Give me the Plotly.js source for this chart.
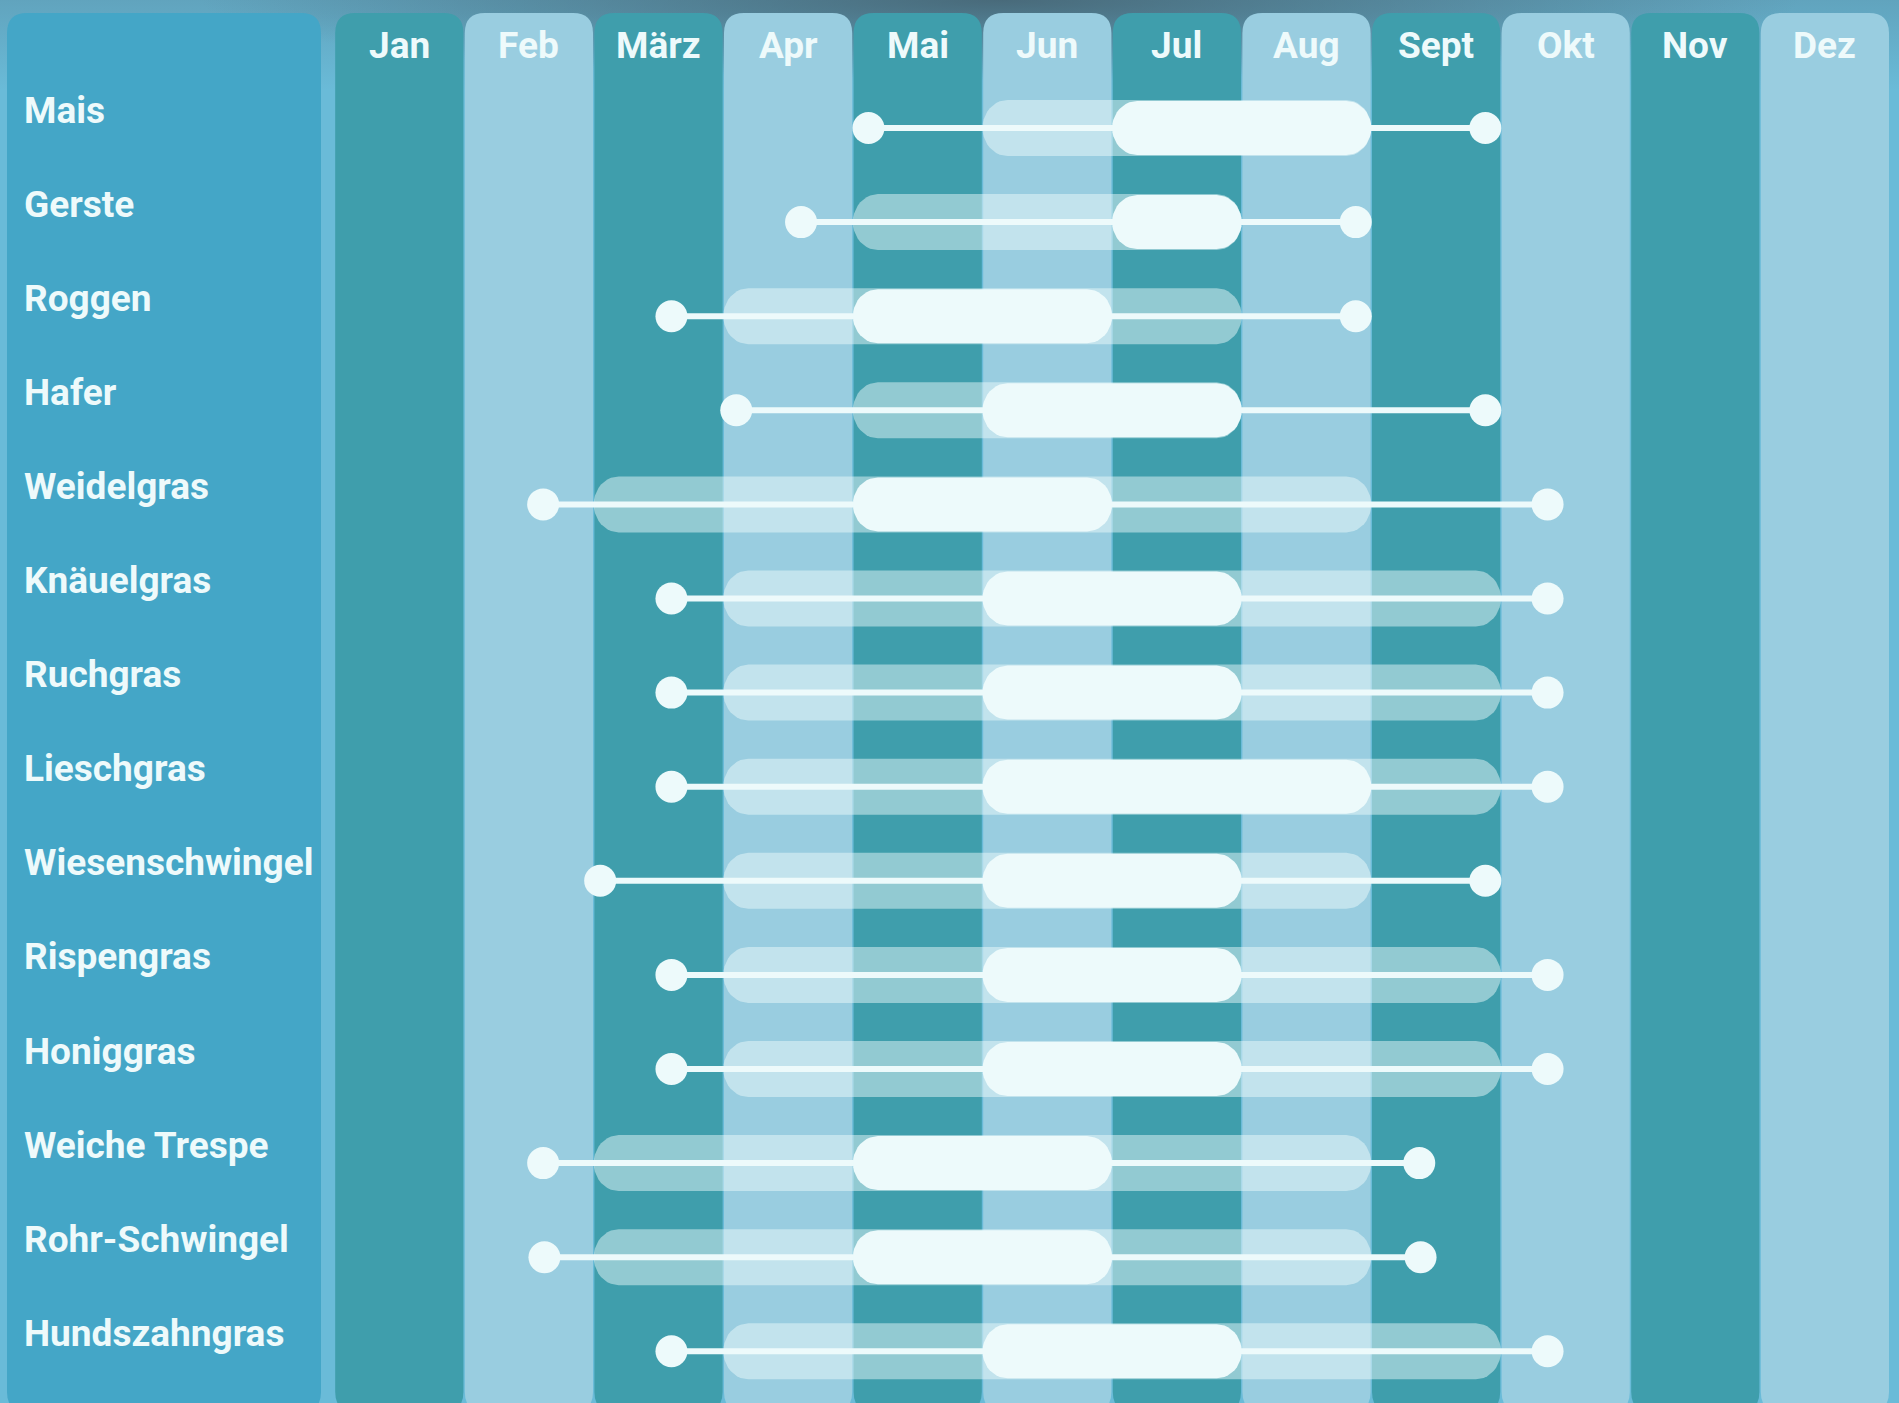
<!DOCTYPE html>
<html><head><meta charset="utf-8">
<script src="https://cdn.plot.ly/plotly-3.0.1.min.js"></script>
<style>
html,body{margin:0;padding:0;width:1899px;height:1403px;overflow:hidden;
background:
 radial-gradient(ellipse 800px 80px at 1000px 0px, rgba(70,100,115,0.9), rgba(70,100,115,0) 100%),
 linear-gradient(to bottom, rgba(80,120,140,0.35) 0px, rgba(80,120,140,0) 90px),
 #6ABBD8;}
#chart{width:1899px;height:1403px;}
</style></head><body><div id="chart"></div>
<script>
// ---- data (months: 0 = start of January) ----
const crops = ['Mais','Gerste','Roggen','Hafer','Weidelgras','Knäuelgras','Ruchgras','Lieschgras',
  'Wiesenschwingel','Rispengras','Honiggras','Weiche Trespe','Rohr-Schwingel','Hundszahngras'];
const months = ['Jan','Feb','März','Apr','Mai','Jun','Jul','Aug','Sept','Okt','Nov','Dez'];
const seasonStart = [4.12, 3.60, 2.60, 3.10, 1.61, 2.60, 2.60, 2.60, 2.05, 2.60, 2.60, 1.61, 1.62, 2.60];
const seasonEnd   = [8.88, 7.88, 7.88, 8.88, 9.36, 9.36, 9.36, 9.36, 8.88, 9.36, 9.36, 8.37, 8.38, 9.36];
const mainStart   = [5, 4, 3, 4, 2, 3, 3, 3, 3, 3, 3, 2, 2, 3];
const mainEnd     = [8, 7, 7, 7, 8, 9, 9, 9, 8, 9, 9, 8, 8, 9];
const peakStart   = [6, 6, 4, 5, 4, 5, 5, 5, 5, 5, 5, 4, 4, 5];
const peakEnd     = [8, 7, 6, 7, 6, 7, 7, 8, 7, 7, 7, 6, 6, 7];

// ---- layout geometry ----
const W = 1899, H = 1403;
const janLeftPx = 334.5, monthPx = 129.6, firstRowPx = 128, rowPx = 94.1;
const xRange = [-janLeftPx / monthPx, (W - janLeftPx) / monthPx];
const yRange = [(H - firstRowPx) / rowPx, -firstRowPx / rowPx];
const ux = (xRange[1] - xRange[0]) / W;
const uy = (yRange[0] - yRange[1]) / H;
const xAtPx = px => xRange[0] + px * ux;
const yAtPx = py => yRange[1] + py * uy;

const DARK = '#3F9EAC', LIGHT = '#99CDE0', PANEL = '#44A6C7';
const WHITE = '#EDFAFB', HALF = 'rgba(238,250,251,0.48)';
const font = {family: 'Roboto, "Noto Sans", sans-serif', size: 37, weight: 700, color: '#EEFAFB'};

function roundRect(x0, x1, y0, y1, r) {
  const rx = r * ux, ry = r * uy;
  return `M${x0+rx},${y0} L${x1-rx},${y0} Q${x1},${y0} ${x1},${y0+ry} L${x1},${y1-ry} Q${x1},${y1} ${x1-rx},${y1} ` +
         `L${x0+rx},${y1} Q${x0},${y1} ${x0},${y1-ry} L${x0},${y0+ry} Q${x0},${y0} ${x0+rx},${y0} Z`;
}
function pill(xs, xe, yc, hPx, rPx) {
  const rx = rPx * ux, ry = hPx / 2 * uy, n = 20, X = [], Y = [];
  for (let j = 0; j <= n; j++) { const t = -Math.PI/2 + Math.PI*j/n; X.push(xe - rx + rx*Math.cos(t)); Y.push(yc + ry*Math.sin(t)); }
  for (let j = 0; j <= n; j++) { const t = Math.PI/2 + Math.PI*j/n; X.push(xs + rx + rx*Math.cos(t)); Y.push(yc + ry*Math.sin(t)); }
  X.push(X[0]); Y.push(Y[0]);
  return {x: X, y: Y};
}

const shapes = [];
shapes.push({type: 'path', xref: 'x', yref: 'y', layer: 'below', line: {width: 0}, fillcolor: PANEL,
  path: roundRect(xAtPx(7), xAtPx(321), yAtPx(13), yAtPx(1412), 20)});
months.forEach((m, i) => {
  shapes.push({type: 'path', xref: 'x', yref: 'y', layer: 'below', line: {width: 0},
    fillcolor: i % 2 === 0 ? DARK : LIGHT,
    path: roundRect(i + 0.7*ux, i + 1 - 0.7*ux, yAtPx(13), yAtPx(1412), 20)});
});

const traces = [];
crops.forEach((c, k) => {
  const p = pill(mainStart[k], mainEnd[k], k, 56, 25);
  traces.push({type: 'scatter', mode: 'lines', x: p.x, y: p.y, fill: 'toself', fillcolor: HALF,
    line: {width: 0, color: 'rgba(0,0,0,0)'}, hoverinfo: 'skip', showlegend: false});
});
const lx = [], ly = [];
crops.forEach((c, k) => { lx.push(seasonStart[k], seasonEnd[k], null); ly.push(k, k, null); });
traces.push({type: 'scatter', mode: 'lines', x: lx, y: ly, line: {color: WHITE, width: 6}, hoverinfo: 'skip', showlegend: false});
const rows = crops.map((c, k) => k);
traces.push({type: 'scatter', mode: 'markers', x: seasonStart.concat(seasonEnd), y: rows.concat(rows),
  marker: {size: 32, color: WHITE, line: {width: 0}}, hoverinfo: 'skip', showlegend: false});
crops.forEach((c, k) => {
  const p = pill(peakStart[k], peakEnd[k], k, 54, 25);
  traces.push({type: 'scatter', mode: 'lines', x: p.x, y: p.y, fill: 'toself', fillcolor: WHITE,
    line: {width: 0, color: 'rgba(0,0,0,0)'}, hoverinfo: 'skip', showlegend: false});
});

const annotations = [];
months.forEach((m, i) => annotations.push({x: i + 0.5, xref: 'x', y: 1 - 45 / H, yref: 'paper',
  text: m, showarrow: false, xanchor: 'center', yanchor: 'middle', font: font}));
crops.forEach((c, k) => annotations.push({x: 22 / W, xref: 'paper', y: k, yref: 'y', yshift: 18,
  text: c, showarrow: false, xanchor: 'left', yanchor: 'middle', font: font}));

Plotly.newPlot('chart', traces, {
  width: W, height: H, margin: {l: 0, r: 0, t: 0, b: 0, pad: 0},
  paper_bgcolor: 'rgba(0,0,0,0)', plot_bgcolor: 'rgba(0,0,0,0)',
  xaxis: {range: xRange, visible: false, fixedrange: true},
  yaxis: {range: yRange, visible: false, fixedrange: true},
  showlegend: false, shapes: shapes, annotations: annotations
}, {staticPlot: true, displayModeBar: false});
</script></body></html>
